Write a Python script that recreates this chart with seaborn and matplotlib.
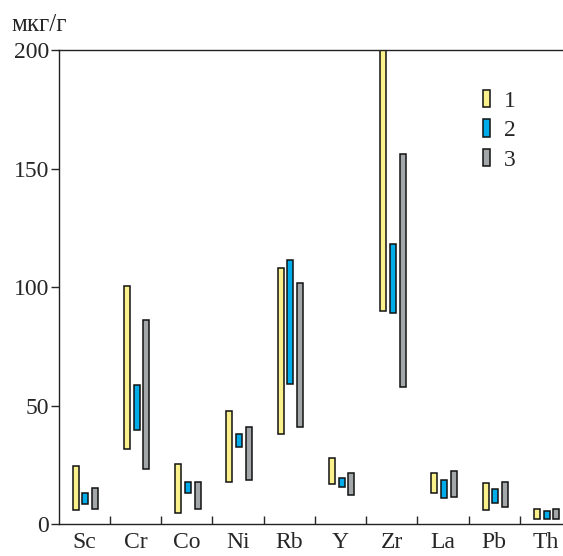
import pandas as pd
import matplotlib
matplotlib.use("Agg")
import matplotlib.pyplot as plt
from matplotlib.patches import Patch
import seaborn as sns

# Data: element ranges (min/max, mkg/g) for three groups
elements = ["Sc", "Cr", "Co", "Ni", "Rb", "Y", "Zr", "La", "Pb", "Th"]
groups = ["1", "2", "3"]

low_1 = [6.0, 31.8, 4.9, 17.8, 38.1, 17.0, 89.9, 13.3, 6.0, 2.1]
high_1 = [24.6, 100.5, 25.6, 47.7, 108.0, 27.8, 200.0, 21.8, 17.3, 6.3]
low_2 = [8.4, 39.9, 13.1, 32.5, 59.3, 15.7, 89.0, 11.0, 9.1, 2.1]
high_2 = [13.3, 58.6, 18.0, 38.2, 111.5, 19.7, 118.1, 18.7, 14.9, 5.7]
low_3 = [6.6, 23.3, 6.6, 18.6, 40.9, 12.4, 57.8, 11.6, 7.4, 2.1]
high_3 = [15.2, 86.2, 18.0, 41.1, 101.9, 21.8, 156.2, 22.6, 18.0, 6.3]

lows = {"1": low_1, "2": low_2, "3": low_3}
highs = {"1": high_1, "2": high_2, "3": high_3}
colors = {"1": "#faf08c", "2": "#00acea", "3": "#a3a7a9"}

rows = []
for g in groups:
    for i, el in enumerate(elements):
        rows.append({"element": el, "group": g, "high": highs[g][i]})
df = pd.DataFrame(rows)

sns.set_style("ticks")
plt.rcParams["font.family"] = ["Liberation Serif", "DejaVu Serif"]

fig = plt.figure(figsize=(5.63, 5.56), dpi=100)
ax = fig.add_axes([0.1043, 0.057, 0.9103, 0.8525])

bar_w = 0.57
sns.barplot(data=df, x="element", y="high", hue="group", order=elements,
            hue_order=groups, palette=colors, saturation=1, width=bar_w, gap=0.37,
            edgecolor="#111111", linewidth=1.1, legend=False, ax=ax)

# turn the bars into floating ranges (low..high)
step = bar_w / 3
for cont in ax.containers:
    for bar in cont:
        cx = bar.get_x() + bar.get_width() / 2
        ci = int(round(cx))
        gi = int(round((cx - ci) / step)) + 1
        g = groups[gi]
        lo = lows[g][ci]
        bar.set_y(lo)
        bar.set_height(highs[g][ci] - lo)
        bar.set_x(bar.get_x() + 0.02)

ax.set_xlim(-0.5, 9.5)
ax.set_ylim(0, 200)
ax.set_yticks([0, 50, 100, 150, 200])
ax.set_xlabel("")
ax.set_ylabel("")
ax.tick_params(axis="y", labelsize=17, direction="out", length=6, width=1, pad=1)
ax.tick_params(axis="x", which="major", labelsize=17, length=0, pad=5.5)
ax.set_xticks([i + 0.5 for i in range(9)], minor=True)
ax.tick_params(axis="x", which="minor", direction="in", length=6, width=1)
for s in ["left", "bottom", "top"]:
    ax.spines[s].set_linewidth(1)
    ax.spines[s].set_color("#222222")
ax.spines["right"].set_visible(False)

handles = [Patch(facecolor=colors[g], edgecolor="#111111", linewidth=1.1) for g in groups]
ax.legend(handles, groups, loc="upper left", bbox_to_anchor=(0.81, 0.937),
          frameon=False, fontsize=17, handlelength=0.28, handleheight=0.75,
          handletextpad=0.6, labelspacing=0.33, borderaxespad=0)

fig.text(0.021, 0.944, "мкг/г", fontsize=18, ha="left", va="baseline")

fig.savefig("out.png", dpi=100)
